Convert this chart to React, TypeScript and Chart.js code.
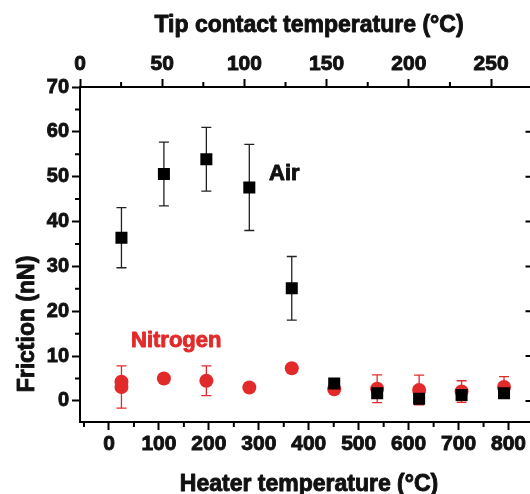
import React, { useEffect, useRef } from 'react';
import { Chart, registerables } from 'chart.js';

Chart.register(...registerables);

// ---- data ----
const heaterTemps = [25, 110, 195, 281, 366, 451, 537, 621, 706, 791];
const airFriction = [36.4, 50.6, 53.9, 47.6, 25.1, 3.9, 1.7, 0.5, 1.3, 1.7];
const airError = [6.7, 7.1, 7.1, 9.6, 7.1, 0.6, 0.6, 0.6, 0.6, 0.6];

const n2Temps = [25, 25, 110, 195, 281, 366, 451, 537, 621, 706, 791];
const n2Friction = [4.3, 3.1, 5.0, 4.5, 3.0, 7.3, 2.6, 2.7, 2.45, 2.1, 3.1];
const n2Error = [0, 4.7, 0, 3.3, 0, 0, 0, 3.1, 3.3, 2.4, 2.3];

const heaterTicks = [0, 100, 200, 300, 400, 500, 600, 700, 800];
const heaterMinor = [-50, 50, 150, 250, 350, 450, 550, 650, 750];
const tipTicks = [0, 50, 100, 150, 200, 250];
const tipMinor = [25, 75, 125, 175, 225];
const frictionTicks = [0, 10, 20, 30, 40, 50, 60, 70];
const frictionMinor = [5, 15, 25, 35, 45, 55, 65];

const RED = '#e32a2b';
const INK = '#111';
const FONT = '"Liberation Sans", Arial, Helvetica, sans-serif';

function boldText(ctx: any, text: string, x: number, y: number, color: string) {
  ctx.fillStyle = color;
  ctx.strokeStyle = color;
  ctx.lineWidth = 0.9;
  ctx.lineJoin = 'round';
  ctx.fillText(text, x, y);
  ctx.strokeText(text, x, y);
}

const decorPlugin = {
  id: 'decor',
  beforeDatasetsDraw(chart: any) {
    const { ctx, scales } = chart;
    const x = scales.x;
    const y = scales.y;
    const drawBars = (xs: number[], ys: number[], es: number[], color: string) => {
      ctx.save();
      ctx.strokeStyle = color;
      ctx.lineWidth = 1.3;
      xs.forEach((xv, i) => {
        const e = es[i];
        if (!e) return;
        const px = x.getPixelForValue(xv);
        const top = y.getPixelForValue(ys[i] + e);
        const bot = y.getPixelForValue(ys[i] - e);
        ctx.beginPath();
        ctx.moveTo(px, top);
        ctx.lineTo(px, bot);
        ctx.moveTo(px - 5, top);
        ctx.lineTo(px + 5, top);
        ctx.moveTo(px - 5, bot);
        ctx.lineTo(px + 5, bot);
        ctx.stroke();
      });
      ctx.restore();
    };
    drawBars(n2Temps, n2Friction, n2Error, RED);
    drawBars(heaterTemps, airFriction, airError, '#222');
  },
  afterDraw(chart: any) {
    const { ctx, scales, chartArea } = chart;
    const x = scales.x;
    const x2 = scales.x2;
    const y = scales.y;
    ctx.save();
    ctx.strokeStyle = '#000';
    ctx.lineWidth = 2;
    ctx.beginPath();
    heaterMinor.forEach((v) => {
      const p = x.getPixelForValue(v);
      ctx.moveTo(p, chartArea.bottom);
      ctx.lineTo(p, chartArea.bottom + 5);
    });
    tipMinor.forEach((v) => {
      const p = x2.getPixelForValue(v);
      ctx.moveTo(p, chartArea.top);
      ctx.lineTo(p, chartArea.top - 5);
    });
    frictionMinor.forEach((v) => {
      const p = y.getPixelForValue(v);
      ctx.moveTo(chartArea.left, p);
      ctx.lineTo(chartArea.left - 5, p);
    });
    frictionTicks.forEach((v) => {
      const p = y.getPixelForValue(v);
      ctx.moveTo(chartArea.right, p);
      ctx.lineTo(chartArea.right - 5, p);
    });
    ctx.stroke();

    // axis titles
    ctx.font = `bold 23px ${FONT}`;
    ctx.textAlign = 'center';
    ctx.textBaseline = 'alphabetic';
    boldText(ctx, 'Tip contact temperature (°C)', 309, 32, INK);
    boldText(ctx, 'Heater temperature (°C)', 309, 491, INK);
    ctx.save();
    ctx.translate(34, 324);
    ctx.rotate(-Math.PI / 2);
    boldText(ctx, 'Friction (nN)', 0, 0, INK);
    ctx.restore();

    // series labels
    ctx.textAlign = 'left';
    ctx.font = `bold 22px ${FONT}`;
    boldText(ctx, 'Air', 269, 180, INK);
    boldText(ctx, 'Nitrogen', 131, 347, RED);
    ctx.restore();
  },
};

export default function App() {
  const ref = useRef<HTMLCanvasElement>(null);
  useEffect(() => {
    if (!ref.current) return;
    const tickFont = { family: FONT, size: 21, weight: 'bold' as const };
    const tickCommon = {
      color: INK,
      padding: 2,
      maxRotation: 0,
      textStrokeColor: INK,
      textStrokeWidth: 0.9,
      callback: (v: any) => String(v),
    };
    const axisCommon = {
      grid: {
        display: true,
        drawOnChartArea: false,
        drawTicks: true,
        tickLength: 8,
        tickWidth: 2,
        tickColor: '#000',
      },
      border: { display: true, width: 2, color: '#000' },
    };
    const chart = new Chart(ref.current, {
      type: 'scatter',
      data: {
        datasets: [
          {
            label: 'Air',
            data: heaterTemps.map((t, i) => ({ x: t, y: airFriction[i] })),
            pointStyle: 'rect',
            pointRadius: 8.5,
            pointHoverRadius: 8.5,
            backgroundColor: '#000',
            borderColor: '#000',
            borderWidth: 0,
          },
          {
            label: 'Nitrogen',
            data: n2Temps.map((t, i) => ({ x: t, y: n2Friction[i] })),
            pointStyle: 'circle',
            pointRadius: 7,
            pointHoverRadius: 7,
            backgroundColor: RED,
            borderColor: RED,
            borderWidth: 0,
          },
        ],
      },
      options: {
        responsive: false,
        animation: false,
        layout: { padding: { left: 0, right: 2, top: 0, bottom: 0 } },
        plugins: { legend: { display: false }, tooltip: { enabled: false } },
        scales: {
          x: {
            type: 'linear',
            position: 'bottom',
            min: -58,
            max: 844,
            ...axisCommon,
            ticks: { ...tickCommon, font: tickFont },
            afterBuildTicks: (s: any) => {
              s.ticks = heaterTicks.map((v) => ({ value: v }));
            },
            afterFit: (s: any) => {
              s.height = 72;
            },
          },
          x2: {
            type: 'linear',
            position: 'top',
            min: 0,
            max: 274,
            ...axisCommon,
            ticks: { ...tickCommon, font: tickFont },
            afterBuildTicks: (s: any) => {
              s.ticks = tipTicks.map((v) => ({ value: v }));
            },
            afterFit: (s: any) => {
              s.height = 87;
            },
          },
          y: {
            type: 'linear',
            position: 'left',
            min: -4.7,
            max: 70,
            ...axisCommon,
            ticks: { ...tickCommon, padding: 3, font: { ...tickFont, size: 20 } },
            afterBuildTicks: (s: any) => {
              s.ticks = frictionTicks.map((v) => ({ value: v }));
            },
            afterFit: (s: any) => {
              s.width = 80;
            },
          },
        },
      } as any,
      plugins: [decorPlugin],
    });
    return () => chart.destroy();
  }, []);
  return (
    <div
      style={{
        position: 'fixed',
        left: 0,
        top: 0,
        width: 530,
        height: 494,
        overflow: 'hidden',
        background: '#fff',
      }}
    >
      <canvas ref={ref} width={539} height={494} style={{ display: 'block' }} />
    </div>
  );
}
